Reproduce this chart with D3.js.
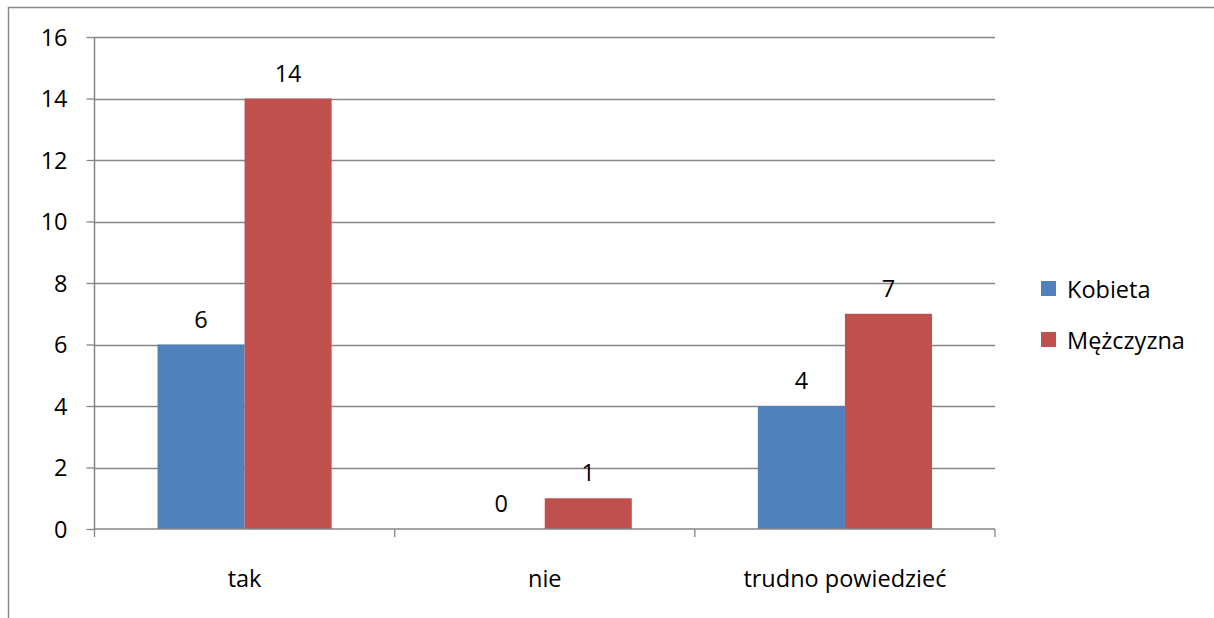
<!DOCTYPE html>
<html><head><meta charset="utf-8">
<script src="https://cdn.jsdelivr.net/npm/d3@7"></script>
<style>body{margin:0;background:#fff;} text{font-family:"Open Sans",Lato,sans-serif;fill:#000;}</style>
</head><body>
<svg id="c" width="1214" height="618"></svg>
<script>
const categories = ["tak", "nie", "trudno powiedzieć"];
const seriesNames = ["Kobieta", "Mężczyzna"];
const kobieta = [6, 0, 4];
const mezczyzna = [14, 1, 7];
const yTicks = [0, 2, 4, 6, 8, 10, 12, 14, 16];
const colors = ["#4F81BD", "#C0504D"];
const FS = 23.5;

const svg = d3.select("#c");
const m = {l: 94.5, r: 995, t: 37, b: 529};
svg.append("rect").attr("x", 8.5).attr("y", 7.5).attr("width", 1220).attr("height", 620)
  .attr("fill", "none").attr("stroke", "#888").attr("stroke-width", 1.5);

const y = d3.scaleLinear().domain([0, 16]).range([m.b, m.t]);
const x0 = d3.scaleBand().domain(categories).range([m.l, m.r]).paddingInner(0).paddingOuter(0);
const x1 = d3.scaleBand().domain(seriesNames).range([0, x0.bandwidth()]).paddingInner(0).paddingOuter(0.724);

// gridlines
svg.append("g").selectAll("line").data(yTicks.filter(d => d > 0)).join("line")
  .attr("x1", m.l).attr("x2", m.r).attr("y1", d => Math.round(y(d)) + 0.5).attr("y2", d => Math.round(y(d)) + 0.5)
  .attr("stroke", "#868686").attr("stroke-width", 1.3);

const vals = [kobieta, mezczyzna];
const g = svg.append("g");
seriesNames.forEach((s, si) => {
  g.selectAll(".b" + si).data(categories).join("rect")
    .attr("x", c => x0(c) + x1(s)).attr("width", x1.bandwidth())
    .attr("y", (c, i) => y(vals[si][i])).attr("height", (c, i) => y(0) - y(vals[si][i]))
    .attr("fill", colors[si]);
  g.selectAll(".l" + si).data(categories).join("text")
    .attr("x", c => x0(c) + x1(s) + x1.bandwidth() / 2)
    .attr("y", (c, i) => y(vals[si][i]) - 17)
    .attr("text-anchor", "middle").attr("font-size", FS)
    .text((c, i) => vals[si][i]);
});

// y axis
const yAxis = d3.axisLeft(y).tickValues(yTicks).tickSize(8).tickPadding(19);
const ya = svg.append("g").attr("transform", `translate(${m.l},0)`).call(yAxis);
ya.select(".domain").attr("stroke", "#868686").attr("stroke-width", 1.5).attr("d", `M0,${m.t}V${m.b}`);
ya.selectAll(".tick line").attr("stroke", "#868686").attr("stroke-width", 1.3);
ya.selectAll(".tick text").attr("font-size", FS).attr("font-family", "'Open Sans',Lato,sans-serif").attr("fill", "#000").attr("dy", "0.36em");

// x axis
const xa = svg.append("g").attr("transform", `translate(0,${m.b})`);
xa.append("line").attr("x1", m.l).attr("x2", m.r).attr("y1", 0).attr("y2", 0).attr("stroke", "#868686").attr("stroke-width", 1.5);
const edges = categories.map(c => x0(c)).concat([m.r]);
xa.selectAll(".t").data(edges).join("line").attr("x1", d => d).attr("x2", d => d).attr("y1", 0).attr("y2", 8)
  .attr("stroke", "#868686").attr("stroke-width", 1.3);
xa.selectAll(".xl").data(categories).join("text")
  .attr("x", c => x0(c) + x0.bandwidth() / 2).attr("y", 58)
  .attr("text-anchor", "middle").attr("font-size", FS).text(c => c);

// legend
const lg = svg.append("g");
seriesNames.forEach((s, i) => {
  lg.append("rect").attr("x", 1041).attr("y", 281 + i * 51).attr("width", 15).attr("height", 15).attr("fill", colors[i]);
  lg.append("text").attr("x", 1067).attr("y", 298 + i * 51).attr("font-size", FS).text(s);
});
</script>
</body></html>
